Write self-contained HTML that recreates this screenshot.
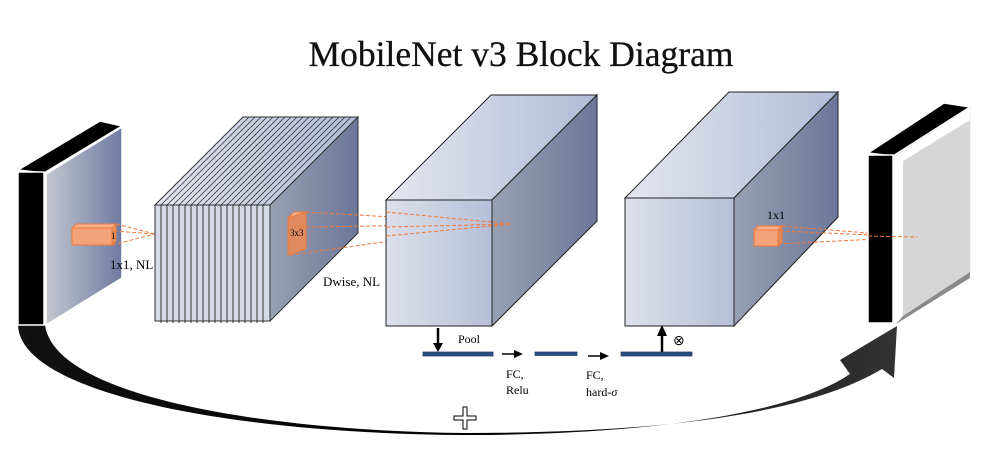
<!DOCTYPE html>
<html><head><meta charset="utf-8"><style>
html,body{margin:0;padding:0;background:#fff;}
svg{display:block;}
text{font-family:"Liberation Serif",serif;}
</style></head><body>
<svg width="991" height="449" viewBox="0 0 991 449" xmlns="http://www.w3.org/2000/svg">
<defs>
<linearGradient id="g1" x1="0" x2="1" y1="0" y2="0"><stop offset="0" stop-color="#c3c6d0"/><stop offset="1" stop-color="#6f7aa0"/></linearGradient>
<linearGradient id="front" x1="0" x2="1"><stop offset="0" stop-color="#dde0ea"/><stop offset="1" stop-color="#b6bfd8"/></linearGradient>
<linearGradient id="side" x1="0" x2="1"><stop offset="0" stop-color="#9aa0b2"/><stop offset="1" stop-color="#6c7799"/></linearGradient>
<linearGradient id="top" x1="0" x2="1"><stop offset="0" stop-color="#e4e6ee"/><stop offset="1" stop-color="#b2bbd8"/></linearGradient>
<linearGradient id="arc" x1="0" x2="1"><stop offset="0" stop-color="#111"/><stop offset="0.5" stop-color="#000"/><stop offset="1" stop-color="#333"/></linearGradient>
</defs>

<text x="521" y="66" font-size="35.5" text-anchor="middle" fill="#111" stroke="#111" stroke-width="0.3">MobileNet v3 Block Diagram</text>

<!-- bottom arc -->
<path d="M18,325 C20,395 240,434 465,435 C640,435 790,415 850,374 L840,360 L897,326 L894,378 L882,369 C800,418 640,433 465,433 C270,431 55,398 45,325 Z" fill="url(#arc)"/>

<!-- left slab -->
<polygon points="18,170 44,173 122,126 100,121" fill="#000" stroke="#fff" stroke-width="1.5"/>
<rect x="18" y="172" width="26" height="153" fill="#000" stroke="#fff" stroke-width="1.5"/>
<polygon points="46,174 122,127 122,278 46,325" fill="url(#g1)" stroke="#fff" stroke-width="1.5"/>
<polygon points="72,228 76,224 116,224 112,228" fill="#f7b08c" stroke="#ee7a3a"/>
<polygon points="112,228 116,224 116,241 112,245" fill="#e88f5e" stroke="#ee7a3a"/>
<rect x="72" y="228" width="40" height="17" fill="#f4a27a" stroke="#ee7a3a"/>
<text x="111" y="239" font-size="9">1</text>
<g stroke="#ee7a3a" stroke-dasharray="4,2" stroke-width="1" fill="none">
<line x1="116" y1="224" x2="155" y2="234"/><line x1="114" y1="231" x2="155" y2="234"/><line x1="112" y1="245" x2="155" y2="234"/>
</g>
<text x="110" y="269" font-size="13">1x1, NL</text>

<!-- sliced cube -->
<polygon points="155,205 270,205 358,117 243,117" fill="url(#top)" stroke="#333"/>
<g stroke="#333" stroke-width="0.8">
<line x1="161" y1="205" x2="249" y2="117"/><line x1="167" y1="205" x2="255" y2="117"/><line x1="173" y1="205" x2="261" y2="117"/><line x1="179" y1="205" x2="267" y2="117"/><line x1="185" y1="205" x2="273" y2="117"/><line x1="191" y1="205" x2="279" y2="117"/><line x1="197" y1="205" x2="285" y2="117"/><line x1="203" y1="205" x2="291" y2="117"/><line x1="209" y1="205" x2="297" y2="117"/><line x1="215" y1="205" x2="303" y2="117"/><line x1="221" y1="205" x2="309" y2="117"/><line x1="227" y1="205" x2="315" y2="117"/><line x1="233" y1="205" x2="321" y2="117"/><line x1="239" y1="205" x2="327" y2="117"/><line x1="245" y1="205" x2="333" y2="117"/><line x1="251" y1="205" x2="339" y2="117"/><line x1="257" y1="205" x2="345" y2="117"/><line x1="263" y1="205" x2="351" y2="117"/>
</g>
<polygon points="270,205 358,117 358,233 270,321" fill="url(#side)" stroke="#333"/>
<rect x="155" y="205" width="115" height="116" fill="#d6dae8" stroke="#333"/>
<g stroke="#222" stroke-width="0.9">
<line x1="161" y1="205" x2="161" y2="323"/><line x1="167" y1="205" x2="167" y2="323"/><line x1="173" y1="205" x2="173" y2="323"/><line x1="179" y1="205" x2="179" y2="323"/><line x1="185" y1="205" x2="185" y2="323"/><line x1="191" y1="205" x2="191" y2="323"/><line x1="197" y1="205" x2="197" y2="323"/><line x1="203" y1="205" x2="203" y2="323"/><line x1="209" y1="205" x2="209" y2="323"/><line x1="215" y1="205" x2="215" y2="323"/><line x1="221" y1="205" x2="221" y2="323"/><line x1="227" y1="205" x2="227" y2="323"/><line x1="233" y1="205" x2="233" y2="323"/><line x1="239" y1="205" x2="239" y2="323"/><line x1="245" y1="205" x2="245" y2="323"/><line x1="251" y1="205" x2="251" y2="323"/><line x1="257" y1="205" x2="257" y2="323"/><line x1="263" y1="205" x2="263" y2="323"/>
</g>
<polygon points="288,218 294,212 306,212 300,218" fill="#f7b08c" stroke="#ee7a3a"/>
<polygon points="288,218 306,212 306,249 288,255" fill="#e08a60" stroke="#ee7a3a"/>
<text x="290" y="236" font-size="9">3x3</text>
<g stroke="#ee7a3a" stroke-dasharray="4,2" stroke-width="1" fill="none">
<line x1="306" y1="212" x2="512" y2="224"/><line x1="300" y1="227" x2="512" y2="224"/><line x1="290" y1="255" x2="512" y2="224"/>
</g>
<text x="323" y="286" font-size="13">Dwise, NL</text>

<!-- cube 2 -->
<polygon points="386,200 492,200 597,95 491,95" fill="url(#top)" stroke="#222"/>
<polygon points="492,200 597,95 597,221 492,326" fill="url(#side)" stroke="#222"/>
<rect x="386" y="200" width="106" height="126" fill="url(#front)" stroke="#222"/>
<g stroke="#ee7a3a" stroke-dasharray="4,2" stroke-width="1" fill="none">
<line x1="386" y1="212" x2="512" y2="224"/><line x1="386" y1="227" x2="512" y2="224"/><line x1="386" y1="236" x2="512" y2="224"/>
</g>

<!-- cube 3 -->
<polygon points="625,198 734,198 838,92 729,92" fill="url(#top)" stroke="#222"/>
<polygon points="734,198 838,92 838,217 734,326" fill="url(#side)" stroke="#222"/>
<rect x="625" y="198" width="109" height="128" fill="url(#front)" stroke="#222"/>
<polygon points="754,230 758,226 782,226 778,230" fill="#f7b08c" stroke="#ee7a3a"/>
<polygon points="778,230 782,226 782,242 778,246" fill="#e08a60" stroke="#ee7a3a"/>
<rect x="754" y="230" width="24" height="16" fill="#f4a27a" stroke="#ee7a3a"/>
<text x="767" y="219" font-size="12">1x1</text>
<g stroke="#ee7a3a" stroke-dasharray="4,2" stroke-width="1" fill="none">
<line x1="782" y1="226" x2="917" y2="237"/><line x1="780" y1="231" x2="917" y2="237"/><line x1="778" y1="244" x2="917" y2="237"/>
</g>

<!-- right slab -->
<polygon points="868,153 893,156 970,107 944,103" fill="#000" stroke="#fff" stroke-width="1.5"/>
<rect x="868" y="155" width="25" height="168" fill="#000" stroke="#fff" stroke-width="1.5"/>
<polygon points="894,157 970,107 970,275 894,324" fill="#fff" stroke="#ddd" stroke-width="0.5"/>
<polygon points="903,161 970,120 970,272 903,316" fill="#d6d6d6"/>
<polygon points="903,316 970,272 970,278 896,324" fill="#8a8a8a"/>
<g stroke="#ee7a3a" stroke-dasharray="4,2" stroke-width="1" fill="none">
<line x1="868" y1="236" x2="917" y2="237"/>
</g>

<!-- SE path -->
<line x1="438" y1="328" x2="438" y2="346" stroke="#000" stroke-width="2.5"/>
<polygon points="433,343 443,343 438,352" fill="#000"/>
<text x="458" y="343" font-size="12">Pool</text>
<rect x="423" y="352" width="70" height="4" fill="#2e4f86" stroke="#1c2f55" stroke-width="0.7"/>
<line x1="502" y1="354" x2="516" y2="354" stroke="#000" stroke-width="1.5"/>
<polygon points="514,350 523,354 514,358" fill="#000"/>
<rect x="535" y="352" width="42" height="3.5" fill="#2e4f86" stroke="#1c2f55" stroke-width="0.7"/>
<line x1="588" y1="356" x2="602" y2="356" stroke="#000" stroke-width="1.5"/>
<polygon points="600,352 609,356 600,360" fill="#000"/>
<rect x="621" y="352" width="71" height="4" fill="#2e4f86" stroke="#1c2f55" stroke-width="0.7"/>
<line x1="662" y1="352" x2="662" y2="334" stroke="#000" stroke-width="2.5"/>
<polygon points="657,336 667,336 662,325" fill="#000"/>
<text x="673" y="345" font-size="14">⊗</text>
<text x="506" y="378" font-size="12">FC,</text>
<text x="506" y="394" font-size="12">Relu</text>
<text x="586" y="379" font-size="12">FC,</text>
<text x="586" y="396" font-size="12">hard-<tspan font-style="italic">σ</tspan></text>

<path d="M463,407 h4 v9 h9 v4 h-9 v9 h-4 v-9 h-9 v-4 h9 z" fill="#fff" stroke="#000" stroke-width="1"/>
</svg>
</body></html>
